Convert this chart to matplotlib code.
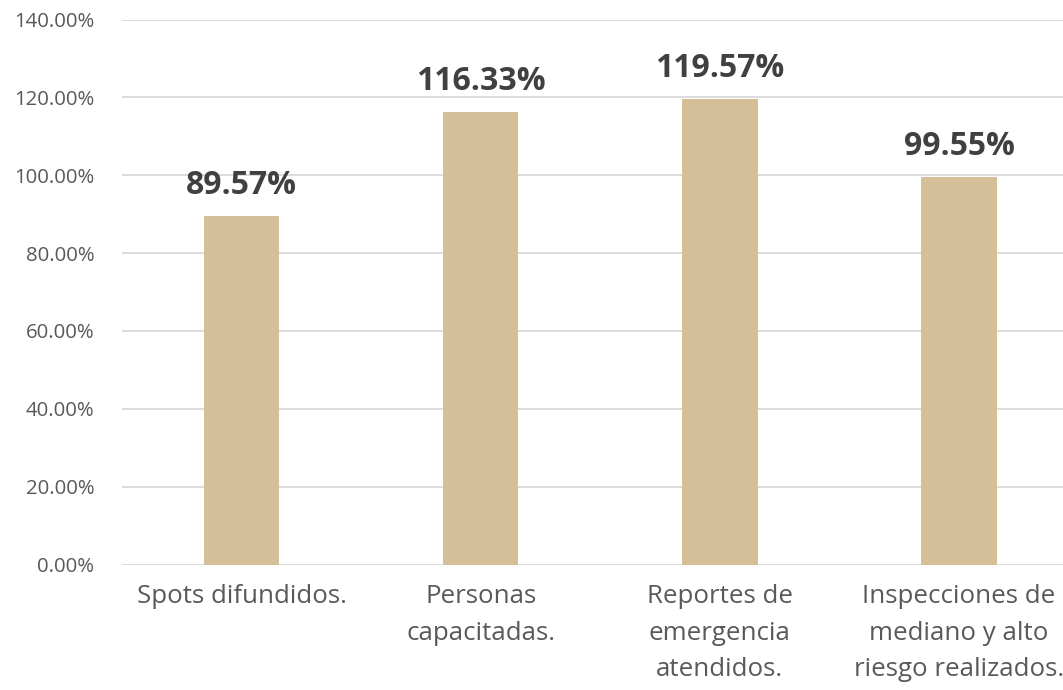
import matplotlib
matplotlib.use("Agg")
import matplotlib.pyplot as plt
from matplotlib.ticker import FuncFormatter, MultipleLocator

categories = ["Spots difundidos.", "Personas\ncapacitadas.", "Reportes de\nemergencia\natendidos.",
              "Inspecciones de\nmediano y alto\nriesgo realizados."]
values = [89.57, 116.33, 119.57, 99.55]
value_labels = ["89.57%", "116.33%", "119.57%", "99.55%"]

plt.rcParams['font.family'] = ['Open Sans', 'DejaVu Sans']

fig = plt.figure(figsize=(10.63, 6.9), dpi=100)
ax = fig.add_axes([122/1063, (690-564.5)/690, (1078.6-122)/1063, 545/690])

x = range(len(categories))
bars = ax.bar(x, values, width=0.315, color="#D4BF98", zorder=3)
ax.set_xlim(-0.5, len(categories) - 0.5)
ax.set_ylim(0, 140)
ax.yaxis.set_major_locator(MultipleLocator(20))
ax.yaxis.set_major_formatter(FuncFormatter(lambda v, p: f"{v:.2f}%"))
ax.grid(axis='y', color="#D9D9D9", linewidth=1.3, zorder=0)
for s in ax.spines.values():
    s.set_visible(False)
ax.tick_params(axis='y', length=0, pad=20, labelsize=14.7, labelcolor="#595959")
ax.tick_params(axis='x', length=0, pad=14, labelsize=18.6, labelcolor="#595959")
ax.set_xticks(list(x))
ax.set_xticklabels(categories, linespacing=1.61)

for xi, v, lab in zip(x, values, value_labels):
    ax.annotate(lab, (xi, v), xytext=(0, 10), textcoords="offset points",
                ha='center', va='bottom', fontsize=23, fontweight='bold', color="#404040")

fig.savefig("out.png", dpi=100)
